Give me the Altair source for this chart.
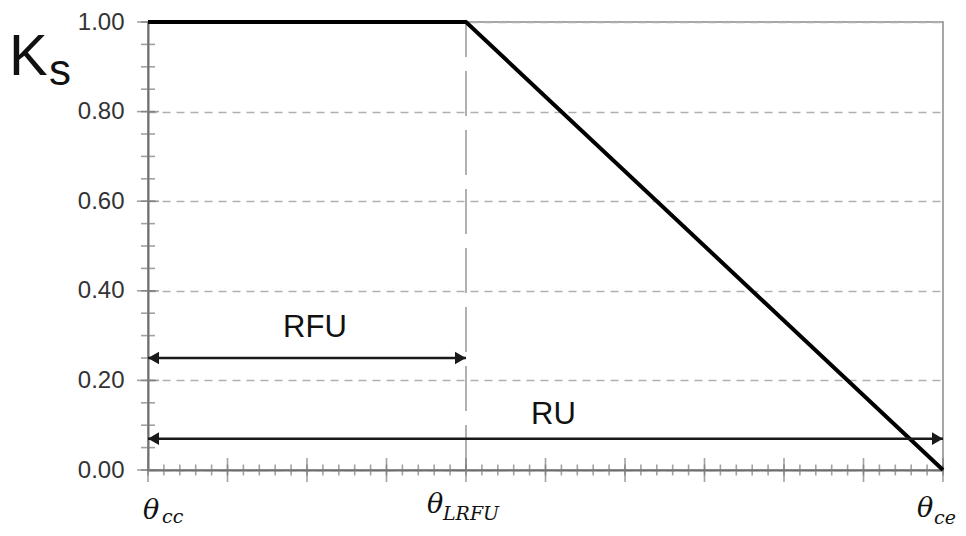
import altair as alt
import pandas as pd

# Ks curve (theta in relative units: theta_cc = 0, theta_LRFU = 4, theta_ce = 10)
curve_x = [0, 4, 10]
curve_ks = [1.0, 1.0, 0.0]

# y axis labels
y_values = [0.0, 0.2, 0.4, 0.6, 0.8, 1.0]

# tick positions
x_minor = [i / 5 for i in range(51)]
x_major = [i for i in range(11)]
y_minor = [i / 20 for i in range(21)]
y_major = [i / 5 for i in range(6)]

# annotation arrows
arrow_names = ["RFU", "RU"]
arrow_start = [0, 0]
arrow_end = [4, 10]
arrow_y = [0.25, 0.07]
arrow_label_x = [2.1, 5.1]

# theta labels
theta_x = [0, 4, 10]
theta_sub = ["cc", "LRFU", "ce"]
theta_dx = [-5, -39, -26]
theta_dy = [49, 43, 47]
sub_dx = [14, -23, -9]
sub_dy = [53, 50, 54]

curve = pd.DataFrame({"x": curve_x, "ks": curve_ks})
arrows = pd.DataFrame({"name": arrow_names, "x1": arrow_start, "x2": arrow_end,
                       "y": arrow_y, "lx": arrow_label_x})

X = alt.Scale(domain=[0, 10], nice=False, zero=False)
Y = alt.Scale(domain=[0, 1], nice=False, zero=False)

base_x_axis = alt.Axis(labels=False, ticks=False, grid=False, title=None,
                       domainColor="#6e6e6e", domainWidth=2)
y_axis = alt.Axis(values=y_values, format=".2f", labelFontSize=24,
                  labelFont="Liberation Sans", labelColor="#333333",
                  labelPadding=24, labelFlush=False, ticks=False, title=None,
                  grid=True, gridDash=[8, 6], gridColor="#b0b0b0", gridWidth=1.5,
                  domainColor="#6e6e6e", domainWidth=2)

# frame / grid layer
frame = alt.Chart(curve).mark_line(opacity=0).encode(
    x=alt.X("x:Q", scale=X, axis=base_x_axis),
    y=alt.Y("ks:Q", scale=Y, axis=y_axis),
)

vline = alt.Chart(pd.DataFrame({"x": [4], "y1": [0], "y2": [1]})).mark_rule(
    color="#b0b0b0", strokeWidth=2, strokeDash=[45, 14]
).encode(x=alt.X("x:Q", scale=X), y=alt.Y("y1:Q", scale=Y), y2="y2:Q")

xminor = alt.Chart(pd.DataFrame({"x": x_minor})).mark_tick(
    orient="vertical", size=11, thickness=1.6, color="#7a7a7a"
).encode(x=alt.X("x:Q", scale=X), y=alt.datum(0, scale=Y))
xmajor = alt.Chart(pd.DataFrame({"x": x_major})).mark_tick(
    orient="vertical", size=24, thickness=1.6, color="#7a7a7a"
).encode(x=alt.X("x:Q", scale=X), y=alt.datum(0, scale=Y))
yminor = alt.Chart(pd.DataFrame({"y": y_minor})).mark_tick(
    orient="horizontal", size=14, thickness=1.6, color="#7a7a7a"
).encode(y=alt.Y("y:Q", scale=Y), x=alt.datum(0, scale=X))
ymajor = alt.Chart(pd.DataFrame({"y": y_major})).mark_tick(
    orient="horizontal", size=22, thickness=1.6, color="#7a7a7a"
).encode(y=alt.Y("y:Q", scale=Y), x=alt.datum(0, scale=X))

line = alt.Chart(curve).mark_line(color="black", strokeWidth=4).encode(
    x=alt.X("x:Q", scale=X), y=alt.Y("ks:Q", scale=Y)
)

arrow_lines = alt.Chart(arrows).mark_rule(color="#1a1a1a", strokeWidth=2.5).encode(
    x=alt.X("x1:Q", scale=X), x2="x2:Q", y=alt.Y("y:Q", scale=Y)
)
head_l = alt.Chart(arrows).mark_point(
    shape="triangle-left", filled=True, size=160, color="#1a1a1a", opacity=1, xOffset=5.5
).encode(x=alt.X("x1:Q", scale=X), y=alt.Y("y:Q", scale=Y))
head_r = alt.Chart(arrows).mark_point(
    shape="triangle-right", filled=True, size=160, color="#1a1a1a", opacity=1, xOffset=-5.5
).encode(x=alt.X("x2:Q", scale=X), y=alt.Y("y:Q", scale=Y))

rfu_label = alt.Chart(arrows[arrows.name == "RFU"]).mark_text(
    font="Liberation Sans", fontSize=31, color="#111111", align="center",
    baseline="alphabetic", dy=-21
).encode(x=alt.X("lx:Q", scale=X), y=alt.Y("y:Q", scale=Y), text="name:N")
ru_label = alt.Chart(arrows[arrows.name == "RU"]).mark_text(
    font="Liberation Sans", fontSize=31, color="#111111", align="center",
    baseline="alphabetic", dy=-15
).encode(x=alt.X("lx:Q", scale=X), y=alt.Y("y:Q", scale=Y), text="name:N")

theta_layers = []
for tx, ts, tdx, tdy, sdx, sdy in zip(theta_x, theta_sub, theta_dx, theta_dy, sub_dx, sub_dy):
    d = pd.DataFrame({"x": [tx], "y": [0], "t": ["θ"], "s": [ts]})
    theta_layers.append(alt.Chart(d).mark_text(
        font="DejaVu Serif", fontStyle="italic", fontSize=27, color="#111111",
        align="left", baseline="alphabetic", dx=tdx, dy=tdy
    ).encode(x=alt.X("x:Q", scale=X), y=alt.Y("y:Q", scale=Y), text="t:N"))
    theta_layers.append(alt.Chart(d).mark_text(
        font="DejaVu Serif", fontStyle="italic", fontSize=19,
        color="#111111", align="left", baseline="alphabetic", dx=sdx, dy=sdy
    ).encode(x=alt.X("x:Q", scale=X), y=alt.Y("y:Q", scale=Y), text="s:N"))

ks = pd.DataFrame({"x": [0], "y": [1], "k": ["K"], "s": ["s"]})
k_label = alt.Chart(ks).mark_text(
    font="Liberation Sans", fontSize=58, color="#111111", align="left",
    baseline="alphabetic", dx=-139, dy=53
).encode(x=alt.X("x:Q", scale=X), y=alt.Y("y:Q", scale=Y), text="k:N")
s_label = alt.Chart(ks).mark_text(
    font="Liberation Sans", fontSize=44, color="#111111", align="left",
    baseline="alphabetic", dx=-99, dy=63
).encode(x=alt.X("x:Q", scale=X), y=alt.Y("y:Q", scale=Y), text="s:N")

chart = alt.layer(
    frame, vline, xminor, xmajor, yminor, ymajor, line,
    arrow_lines, head_l, head_r, rfu_label, ru_label, k_label, s_label, *theta_layers
).properties(
    width=795, height=448,
    autosize=alt.AutoSizeParams(type="none"),
    padding={"left": 140, "top": 14, "right": 15, "bottom": 58},
    background="white",
).configure_view(stroke="#8a8a8a", strokeWidth=1.5)

chart.save("out.html", embed_options={"renderer": "svg", "actions": False})
